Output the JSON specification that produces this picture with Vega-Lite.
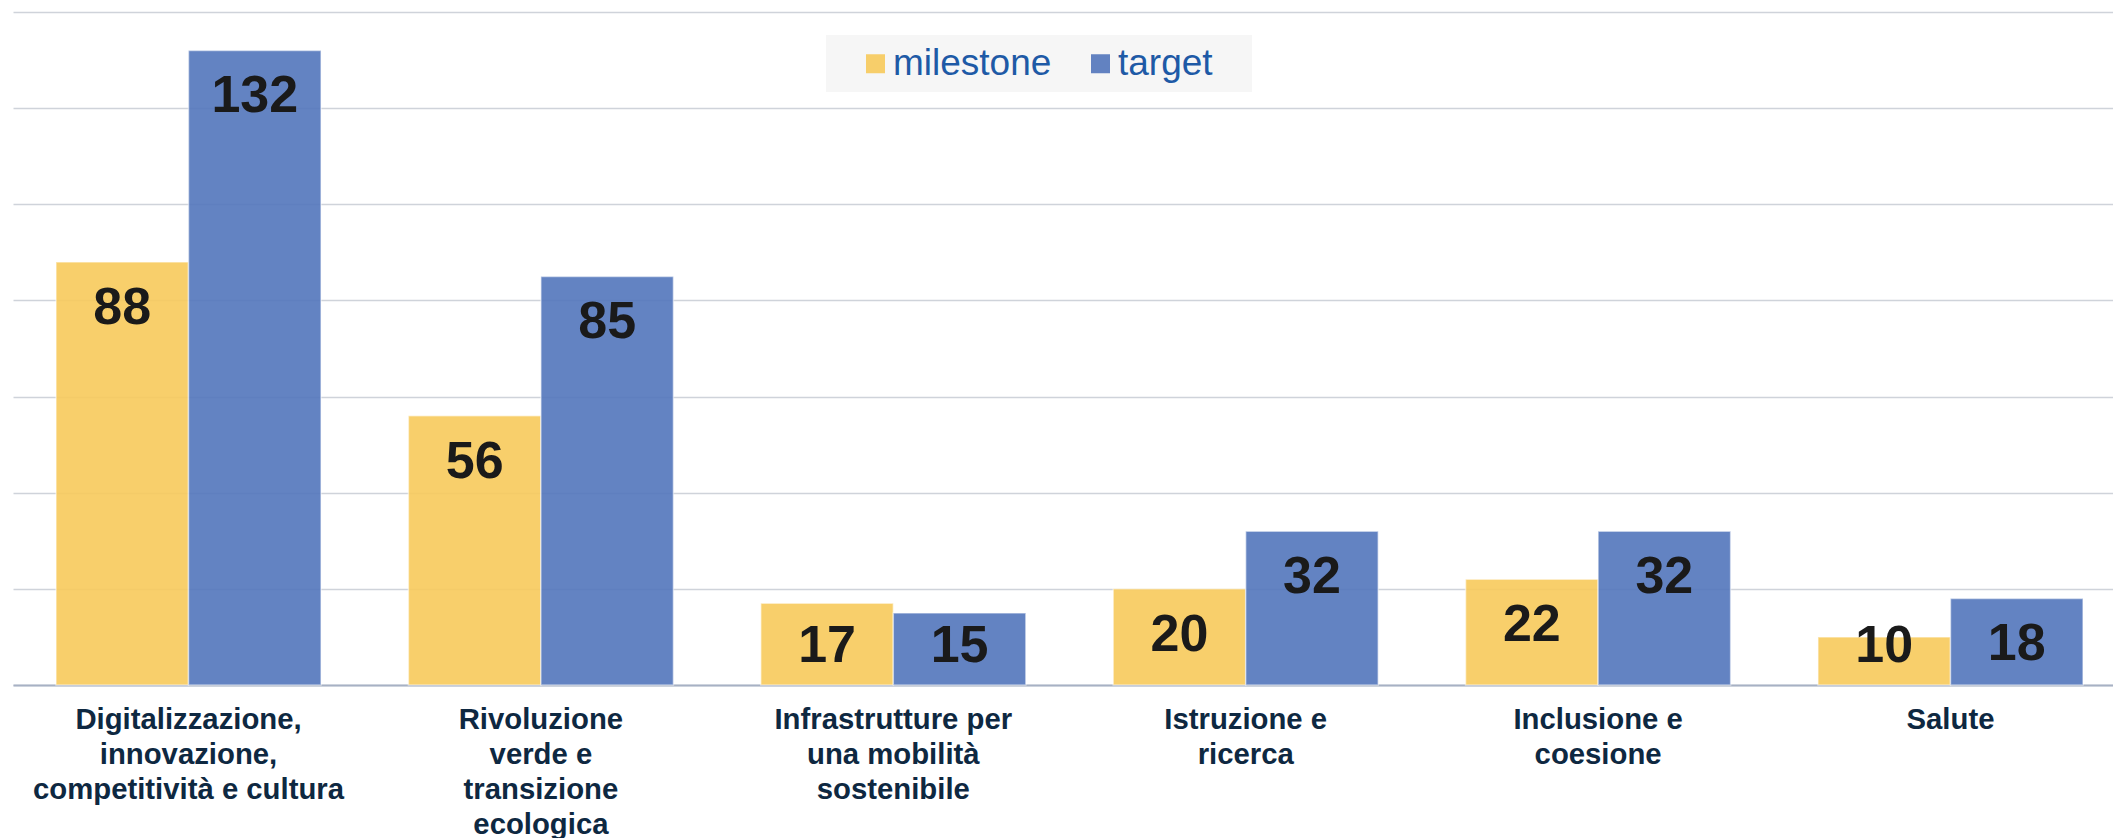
{
  "$schema": "https://vega.github.io/schema/vega-lite/v6.json",
  "width": 2100,
  "height": 673,
  "autosize": {"type": "none"},
  "padding": {"left": 13, "top": 12, "right": 0, "bottom": 153},
  "background": "white",
  "config": {"view": {"stroke": null}, "font": "Liberation Sans"},
  "data": {
    "values": [
      {"area": "Digitalizzazione,\ninnovazione,\ncompetitività e cultura", "tipo": "milestone", "valore": 88},
      {"area": "Digitalizzazione,\ninnovazione,\ncompetitività e cultura", "tipo": "target", "valore": 132},
      {"area": "Rivoluzione\nverde e\ntransizione\necologica", "tipo": "milestone", "valore": 56},
      {"area": "Rivoluzione\nverde e\ntransizione\necologica", "tipo": "target", "valore": 85},
      {"area": "Infrastrutture per\nuna mobilità\nsostenibile", "tipo": "milestone", "valore": 17},
      {"area": "Infrastrutture per\nuna mobilità\nsostenibile", "tipo": "target", "valore": 15},
      {"area": "Istruzione e\nricerca", "tipo": "milestone", "valore": 20},
      {"area": "Istruzione e\nricerca", "tipo": "target", "valore": 32},
      {"area": "Inclusione e\ncoesione", "tipo": "milestone", "valore": 22},
      {"area": "Inclusione e\ncoesione", "tipo": "target", "valore": 32},
      {"area": "Salute", "tipo": "milestone", "valore": 10},
      {"area": "Salute", "tipo": "target", "valore": 18}
    ]
  },
  "encoding": {
    "x": {
      "field": "area",
      "type": "nominal",
      "sort": null,
      "scale": {"paddingInner": 0.248, "paddingOuter": 0.1036, "align": 0.589},
      "axis": {
        "title": null,
        "ticks": false,
        "domainColor": "#a7b1c4",
        "domainWidth": 2,
        "labelAngle": 0,
        "labelFont": "Liberation Sans",
        "labelFontWeight": "bold",
        "labelFontSize": 29.3,
        "labelColor": "#0e2841",
        "labelLineHeight": 35,
        "labelPadding": 20,
        "labelLimit": 0,
        "labelExpr": "split(datum.label, '\\n')"
      }
    },
    "xOffset": {
      "field": "tipo",
      "type": "nominal",
      "sort": ["milestone", "target"],
      "scale": {"paddingInner": 0, "paddingOuter": 0}
    }
  },
  "layer": [
    {
      "mark": {"type": "bar", "fillOpacity": 0.9, "stroke": "white", "strokeOpacity": 0.5, "strokeWidth": 1.5},
      "encoding": {
        "y": {
          "field": "valore",
          "type": "quantitative",
          "scale": {"domain": [0, 140], "nice": false},
          "axis": {
            "title": null,
            "labels": false,
            "ticks": false,
            "domain": false,
            "grid": true,
            "gridColor": "#cfd3da",
            "gridWidth": 1.5,
            "values": [0, 20, 40, 60, 80, 100, 120, 140]
          }
        },
        "color": {
          "field": "tipo",
          "type": "nominal",
          "sort": ["milestone", "target"],
          "scale": {"domain": ["milestone", "target"], "range": ["#f7ca5b", "#5275bb"]},
          "legend": {
            "orient": "none",
            "legendX": 813,
            "legendY": 23,
            "direction": "horizontal",
            "title": " ",
            "titleOrient": "right",
            "titlePadding": 29,
            "titleFontSize": 20,
            "fillColor": "#f6f6f6",
            "strokeColor": null,
            "padding": 10,
            "symbolType": "square",
            "symbolSize": 361,
            "symbolStrokeWidth": 0,
            "symbolOpacity": 0.9,
            "symbolOffset": 21,
            "labelFont": "Liberation Sans",
            "labelFontSize": 37,
            "labelColor": "#1e5aa6",
            "labelOffset": -1,
            "columnPadding": 9
          }
        }
      }
    },
    {
      "transform": [{"filter": "datum.valore >= 18"}],
      "mark": {"type": "text", "font": "Liberation Sans", "fontWeight": "bold", "fontSize": 52, "color": "#1a1a1a", "baseline": "alphabetic", "dy": 62},
      "encoding": {
        "y": {"field": "valore", "type": "quantitative"},
        "text": {"field": "valore", "type": "quantitative"}
      }
    },
    {
      "transform": [{"filter": "datum.valore < 18"}],
      "mark": {"type": "text", "font": "Liberation Sans", "fontWeight": "bold", "fontSize": 52, "color": "#1a1a1a", "baseline": "alphabetic", "dy": -23},
      "encoding": {
        "y": {"datum": 0, "type": "quantitative"},
        "text": {"field": "valore", "type": "quantitative"}
      }
    }
  ]
}
